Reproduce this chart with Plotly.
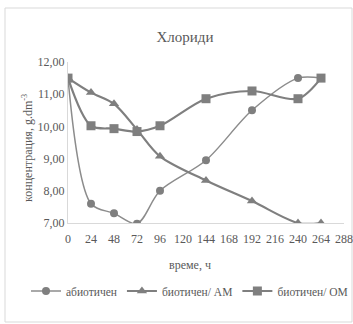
import plotly.graph_objects as go

# Time points, h
hours = [0, 24, 48, 72, 96, 144, 192, 240, 264]

# Chloride concentration, g.dm-3
abiotic = [11.5, 7.6, 7.3, 6.98, 8.0, 8.95, 10.5, 11.5, 11.5]
biotic_am = [11.5, 11.05, 10.7, 9.9, 9.07, 8.32, 7.68, 7.0, 7.0]
biotic_om = [11.5, 10.02, 9.93, 9.84, 10.02, 10.86, 11.1, 10.86, 11.5]

x_ticks = list(range(0, 289, 24))
y_ticks = [7, 8, 9, 10, 11, 12]

FONT = "Times New Roman, Liberation Serif, serif"
GRAY = "#7f7f7f"
TXT = "#595959"

fig = go.Figure()
fig.add_trace(go.Scatter(
    x=hours, y=abiotic, name="абиотичен", mode="lines+markers",
    line=dict(color="#8c8c8c", width=1.5, shape="spline", smoothing=0.9),
    marker=dict(symbol="circle", size=8, color=GRAY),
))
fig.add_trace(go.Scatter(
    x=hours, y=biotic_am, name="биотичен/ AM", mode="lines+markers",
    line=dict(color=GRAY, width=2.2, shape="spline", smoothing=0.9),
    marker=dict(symbol="triangle-up", size=9, color=GRAY),
))
fig.add_trace(go.Scatter(
    x=hours, y=biotic_om, name="биотичен/ OM", mode="lines+markers",
    line=dict(color=GRAY, width=2.2, shape="spline", smoothing=0.9),
    marker=dict(symbol="square", size=9, color=GRAY),
))

L, R, T, B = 68, 9, 62, 101
W, H = 353, 324
pw, ph = W - L - R, H - T - B

def px(x):
    return (x - L) / pw

def py(y):
    return (H - B - y) / ph

fig.update_layout(
    width=W, height=H,
    margin=dict(l=L, r=R, t=T, b=B),
    paper_bgcolor="white", plot_bgcolor="white",
    separators=",.",
    font=dict(family=FONT, size=12, color=TXT),
    title=dict(text="Хлориди", x=px(185), xref="paper", xanchor="center",
               y=1 - 37 / H, yanchor="middle",
               font=dict(family=FONT, size=15, color=TXT)),
    showlegend=True,
    legend=dict(orientation="h", x=px(39), xanchor="left", xref="paper",
                y=py(291), yanchor="middle", yref="paper",
                font=dict(family=FONT, size=11.5, color=TXT),
                tracegroupgap=0, bgcolor="rgba(0,0,0,0)"),
    xaxis=dict(range=[0, 288], tickvals=x_ticks, ticktext=[str(t) for t in x_ticks],
               showgrid=False, zeroline=False, showline=True, linecolor="#d9d9d9",
               linewidth=1, ticks="", ticklabeloverflow="allow", ticklabelstandoff=5,
               tickfont=dict(family=FONT, size=12, color=TXT),
               automargin=False),
    yaxis=dict(range=[7, 12], tickvals=y_ticks, tickformat=".2f",
               showgrid=False, zeroline=False, showline=True, linecolor="#d9d9d9",
               linewidth=1, ticks="", tickfont=dict(family=FONT, size=12, color=TXT),
               automargin=False),
    annotations=[
        dict(text="време, ч", xref="paper", yref="paper", x=px(190), y=py(265),
             xanchor="center", yanchor="middle", showarrow=False,
             font=dict(family=FONT, size=12, color=TXT)),
        dict(text="концентрация, g.dm<sup>-3</sup>", xref="paper", yref="paper",
             x=px(27), y=py(148), textangle=-90, xanchor="center", yanchor="middle",
             showarrow=False, font=dict(family=FONT, size=12, color=TXT)),
    ],
    shapes=[dict(type="rect", xref="paper", yref="paper",
                 x0=px(5), x1=px(352), y0=py(322), y1=py(8),
                 line=dict(color="#d9d9d9", width=1), layer="below")],
)

fig.write_html("out.html")
